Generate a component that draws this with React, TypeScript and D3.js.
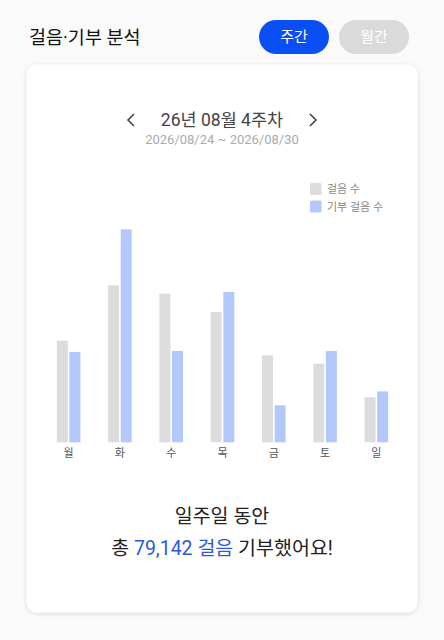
import React from "react";
import * as d3 from "d3";

const days = ["월", "화", "수", "목", "금", "토", "일"];
const steps = [11100, 17160, 16240, 14240, 9510, 8590, 4920];
const donated = [9870, 23280, 9980, 16430, 4040, 9980, 5562];
const seriesNames = ["걸음 수", "기부 걸음 수"];
const seriesColors = ["#dcdcdc", "#b3c8fa"];
const yMax = 25000;

const W = 444;
const H = 640;
const FONT = "Roboto, 'Noto Sans CJK KR', 'Noto Sans', sans-serif";

export default function App() {
  const total = d3.sum(donated);
  const x0 = d3.scaleBand<string>().domain(days).range([43, 402]);
  const y = d3.scaleLinear().domain([0, yMax]).range([442.3, 213.6]);
  const barW = 11;
  const gap = 1.6;
  const fmt = d3.format(",");

  return (
    <svg width={W} height={H} style={{ position: "absolute", left: 0, top: 0, display: "block" }} fontFamily={FONT}>
      <defs>
        <filter id="sh" x="-10%" y="-10%" width="120%" height="120%">
          <feDropShadow dx="0" dy="1" stdDeviation="2.2" floodColor="#000" floodOpacity="0.14" />
        </filter>
      </defs>
      <rect x={0} y={0} width={W} height={H} fill="#fafafa" />
      <text x={29} y={44} fontSize={18.5} fontWeight={400} fill="#111">걸음·기부 분석</text>
      <rect x={259} y={20} width={70} height={34} rx={17} fill="#0a4ff5" />
      <text x={294} y={42} fontSize={15} fontWeight={400} fill="#fff" textAnchor="middle">주간</text>
      <rect x={339} y={20} width={70} height={34} rx={17} fill="#dadada" />
      <text x={374} y={42} fontSize={15} fontWeight={400} fill="#fff" textAnchor="middle">월간</text>

      <rect x={26.5} y={64.5} width={391} height={548} rx={10} fill="#fff" filter="url(#sh)" />

      <path d="M134,114 L128,120 L134,126" fill="none" stroke="#444" strokeWidth={1.6} />
      <path d="M310,114 L316,120 L310,126" fill="none" stroke="#444" strokeWidth={1.6} />
      <text x={222} y={126} fontSize={17.5} fill="#444" textAnchor="middle">26년 08월 4주차</text>
      <text x={222} y={144} fontSize={13} fill="#aaa" textAnchor="middle">2026/08/24 ~ 2026/08/30</text>

      {seriesNames.map((n, i) => (
        <g key={n}>
          <rect x={310} y={183 + i * 17.5} width={11.5} height={12} rx={1.5} fill={seriesColors[i]} />
          <text x={327} y={193 + i * 17.5} fontSize={11} fill="#888">{n}</text>
        </g>
      ))}

      {days.map((d) => {
        const i = days.indexOf(d);
        const cx = (x0(d) as number) + x0.bandwidth() / 2;
        return (
          <g key={d}>
            <rect x={cx - gap / 2 - barW} y={y(steps[i])} width={barW} height={y(0) - y(steps[i])} fill={seriesColors[0]} />
            <rect x={cx + gap / 2} y={y(donated[i])} width={barW} height={y(0) - y(donated[i])} fill={seriesColors[1]} />
            <text x={cx} y={457} fontSize={11} fill="#555" textAnchor="middle">{d}</text>
          </g>
        );
      })}

      <text x={222} y={523} fontSize={19.5} fill="#222" textAnchor="middle">일주일 동안</text>
      <text x={222} y={555} fontSize={19.5} fill="#222" textAnchor="middle">
        총 <tspan fill="#2a5bd7">{fmt(total)} 걸음</tspan> 기부했어요!
      </text>
    </svg>
  );
}
